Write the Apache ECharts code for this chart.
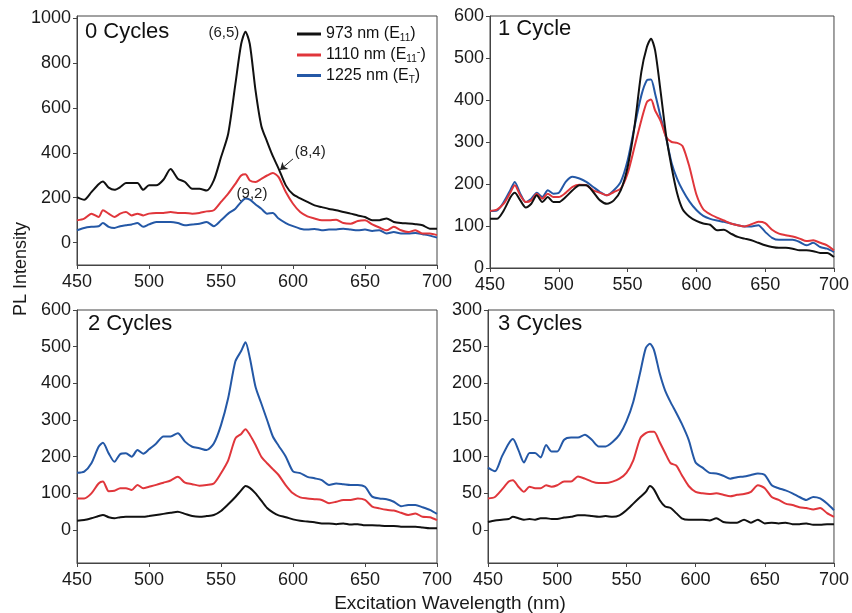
<!DOCTYPE html>
<html>
<head>
<meta charset="utf-8">
<script src="https://cdn.jsdelivr.net/npm/echarts@6/dist/echarts.min.js"></script>
<style>
  html, body { margin: 0; padding: 0; background: #fff; }
  #chart { width: 852px; height: 613px; }
</style>
</head>
<body>
<div id="chart"></div>
<script>
// excitation wavelengths (nm), shared by every panel
const wl = [450, 455, 460, 465, 468, 472, 476, 480, 484, 488, 492, 496, 500, 505, 510, 515, 520, 525, 530, 535, 540, 545, 550, 555, 560, 564, 567, 570, 574, 578, 582, 586, 590, 595, 600, 605, 610, 615, 620, 625, 630, 635, 640, 645, 650, 655, 660, 665, 670, 675, 680, 685, 690, 695, 700]

// 0 cycles
const c0E11 = [203, 191, 225, 260, 272, 245, 235, 247, 265, 265, 265, 235, 255, 255, 280, 328, 285, 270, 240, 240, 232, 277, 380, 485, 707, 885, 940, 885, 677, 520, 450, 385, 330, 255, 215, 197, 181, 166, 158, 150, 144, 136, 129, 121, 114, 100, 100, 107, 92, 87, 85, 82, 77, 62, 62]
const c0E11m = [99, 107, 129, 114, 144, 129, 114, 129, 136, 121, 129, 121, 129, 132, 132, 136, 132, 132, 129, 132, 139, 144, 181, 218, 262, 299, 304, 277, 270, 284, 299, 310, 292, 225, 173, 136, 117, 107, 99, 99, 102, 87, 84, 96, 99, 81, 67, 55, 70, 55, 47, 55, 40, 40, 33]
const c0ET = [55, 65, 70, 73, 87, 70, 65, 73, 77, 81, 87, 70, 81, 92, 92, 92, 87, 77, 81, 84, 92, 73, 99, 129, 151, 181, 196, 191, 170, 151, 129, 132, 107, 87, 73, 62, 58, 61, 55, 58, 58, 62, 58, 55, 58, 52, 55, 40, 47, 40, 40, 43, 37, 31, 22]

// 1 cycle
const c1E11 = [117, 117, 137, 169, 179, 161, 144, 153, 173, 157, 169, 157, 157, 169, 185, 197, 197, 181, 161, 153, 161, 185, 240, 336, 467, 526, 546, 518, 420, 315, 240, 178, 140, 122, 112, 106, 103, 90, 91, 82, 74, 70, 66, 60, 54, 50, 48, 48, 46, 42, 42, 40, 36, 36, 26]
const c1E11m = [136, 139, 153, 181, 197, 173, 157, 161, 177, 165, 177, 169, 169, 179, 193, 198, 197, 185, 179, 173, 181, 189, 225, 288, 352, 395, 401, 375, 350, 312, 300, 298, 290, 240, 175, 140, 128, 120, 113, 106, 102, 99, 104, 110, 107, 91, 82, 78, 75, 70, 64, 66, 60, 54, 42]
const c1ET = [136, 137, 157, 187, 205, 177, 157, 165, 179, 169, 185, 177, 179, 205, 217, 213, 205, 193, 181, 173, 185, 205, 256, 336, 411, 447, 449, 415, 360, 310, 250, 212, 185, 158, 138, 124, 117, 113, 110, 106, 102, 99, 99, 102, 86, 72, 67, 67, 67, 62, 54, 60, 50, 46, 38]

// 2 cycles
const c2E11 = [25, 27, 32, 38, 41, 35, 32, 35, 36, 36, 36, 36, 38, 41, 44, 47, 50, 44, 38, 36, 38, 41, 52, 70, 90, 108, 120, 115, 100, 80, 60, 48, 40, 35, 29, 25, 23, 21, 18, 18, 16, 18, 15, 16, 13, 13, 12, 11, 11, 9, 9, 9, 7, 5, 5]
const c2E11m = [86, 86, 100, 127, 132, 106, 107, 114, 114, 109, 123, 114, 118, 123, 129, 135, 145, 129, 125, 121, 123, 127, 155, 190, 250, 262, 275, 260, 232, 200, 182, 166, 150, 122, 100, 89, 86, 84, 82, 73, 77, 82, 82, 86, 82, 64, 59, 55, 53, 47, 41, 45, 36, 35, 27]
const c2ET = [156, 159, 182, 227, 238, 209, 186, 207, 209, 200, 218, 208, 220, 236, 255, 255, 264, 241, 227, 223, 218, 236, 286, 360, 460, 488, 512, 470, 390, 345, 300, 255, 230, 200, 160, 155, 145, 141, 136, 123, 127, 125, 123, 123, 118, 91, 86, 84, 77, 65, 68, 68, 62, 55, 44]

// 3 cycles
const c3E11 = [11, 13, 14, 15, 18, 16, 14, 15, 14, 16, 16, 15, 15, 17, 18, 20, 20, 19, 18, 19, 18, 20, 27, 36, 45, 52, 60, 55, 41, 32, 30, 23, 16, 14, 14, 14, 13, 16, 11, 10, 10, 14, 10, 14, 9, 10, 9, 10, 8, 8, 9, 7, 7, 8, 8]
const c3E11m = [43, 45, 55, 66, 68, 59, 52, 59, 57, 57, 61, 59, 61, 66, 66, 73, 70, 66, 64, 64, 66, 70, 78, 95, 125, 132, 134, 134, 120, 105, 91, 88, 75, 60, 52, 50, 49, 50, 48, 46, 48, 49, 52, 61, 57, 45, 41, 36, 34, 31, 30, 28, 30, 23, 18]
const c3ET = [85, 80, 100, 118, 124, 109, 92, 105, 105, 99, 116, 107, 107, 123, 126, 126, 130, 123, 114, 114, 120, 130, 148, 175, 215, 248, 254, 245, 214, 190, 174, 160, 145, 123, 92, 85, 78, 77, 74, 70, 72, 73, 75, 77, 75, 61, 57, 54, 50, 45, 41, 45, 43, 36, 27]

const seriesNames = ['973 nm (E11)', '1110 nm (E11-)', '1225 nm (ET)']
const legendLabels = {
  '973 nm (E11)': '973 nm (E{sub|11})',
  '1110 nm (E11-)': '1110 nm (E{sub|11}{sup|-})',
  '1225 nm (ET)': '1225 nm (E{sub|T})'
}
const colors = ['#111111', '#e0363b', '#2458a6']
const panelTitles = ['0 Cycles', '1 Cycle', '2 Cycles', '3 Cycles']
const panelData = [
  [c0E11, c0E11m, c0ET],
  [c1E11, c1E11m, c1ET],
  [c2E11, c2E11m, c2ET],
  [c3E11, c3E11m, c3ET]
]
const yRanges = [
  { min: -100, max: 1010, ticks: [0, 200, 400, 600, 800, 1000] },
  { min: 0, max: 600, ticks: [0, 100, 200, 300, 400, 500, 600] },
  { min: -90, max: 600, ticks: [0, 100, 200, 300, 400, 500, 600] },
  { min: -45, max: 300, ticks: [0, 50, 100, 150, 200, 250, 300] }
]

const font = 'Liberation Sans, Arial, sans-serif'
const axisColor = '#444'

const grids = [
  { left: 77, top: 16, width: 360, height: 249 },
  { left: 490, top: 16, width: 359, height: 252 },
  { left: 77, top: 310, width: 360, height: 253 },
  { left: 488, top: 310, width: 360, height: 253 }
].map(g => Object.assign({ show: true, borderColor: axisColor, borderWidth: 1, backgroundColor: 'transparent' }, g))

const xAxes = grids.map((g, i) => ({
  type: 'value',
  gridIndex: i,
  min: 450,
  max: 700,
  interval: 50,
  axisLine: { show: true, onZero: false, lineStyle: { color: axisColor } },
  axisTick: { show: true, length: 4, lineStyle: { color: axisColor } },
  axisLabel: { color: '#1a1a1a', fontSize: 18, fontFamily: font, margin: 8, formatter: v => String(v) },
  splitLine: { show: false }
}))

const yAxes = yRanges.map((r, i) => ({
  type: 'value',
  gridIndex: i,
  min: r.min,
  max: r.max,
  axisLine: { show: true, lineStyle: { color: axisColor } },
  axisTick: { show: true, length: 4, customValues: r.ticks, lineStyle: { color: axisColor } },
  axisLabel: { color: '#1a1a1a', fontSize: 18, fontFamily: font, margin: 6, customValues: r.ticks, formatter: v => String(v) },
  splitLine: { show: false }
}))

const series = []
panelData.forEach((set, p) => {
  set.forEach((vals, k) => {
    series.push({
      name: seriesNames[k],
      type: 'line',
      xAxisIndex: p,
      yAxisIndex: p,
      data: wl.map((x, j) => [x, vals[j]]),
      showSymbol: false,
      smooth: 0.25,
      z: 5 - k,
      lineStyle: { color: colors[k], width: 2 },
      itemStyle: { color: colors[k] }
    })
  })
})

// chirality labels on the 0-cycle panel
series[0].markPoint = {
  symbol: 'circle',
  symbolSize: 0,
  silent: true,
  label: { show: true, position: 'inside', formatter: '{b}', color: '#222', fontSize: 15, fontFamily: font },
  data: [
    { name: '(6,5)', coord: [552, 934] },
    { name: '(8,4)', coord: [612, 404] },
    { name: '(9,2)', coord: [571.5, 217] }
  ]
}
series[0].markLine = {
  silent: true,
  symbol: ['none', 'arrow'],
  symbolSize: 7,
  label: { show: false },
  lineStyle: { color: '#222', width: 1, type: 'solid' },
  data: [[{ coord: [600, 373] }, { coord: [591, 324] }]]
}

const chart = echarts.init(document.getElementById('chart'))
chart.setOption({
  animation: false,
  textStyle: { fontFamily: font },
  title: panelTitles.map((t, i) => ({
    text: t,
    left: [85, 498, 88, 498][i],
    top: [21, 18, 313, 313][i],
    padding: 0,
    textStyle: { fontSize: 22, fontWeight: 'normal', color: '#111', fontFamily: font }
  })),
  legend: {
    data: seriesNames,
    orient: 'vertical',
    left: 297,
    top: 26,
    padding: 0,
    itemGap: 3,
    itemWidth: 24,
    itemHeight: 3,
    icon: 'rect',
    formatter: name => legendLabels[name],
    textStyle: {
      fontSize: 16,
      color: '#111',
      fontFamily: font,
      rich: {
        sub: { fontSize: 10, padding: [9, 0, 0, 0], color: '#111' },
        sup: { fontSize: 11, padding: [0, 0, 6, 0], color: '#111' }
      }
    }
  },
  grid: grids,
  xAxis: xAxes,
  yAxis: yAxes,
  series: series,
  graphic: [
    {
      type: 'text',
      x: 21,
      y: 269,
      rotation: Math.PI / 2,
      style: { text: 'PL Intensity', fontSize: 18, fontFamily: font, fill: '#1a1a1a', textAlign: 'center', textVerticalAlign: 'middle' }
    },
    {
      type: 'text',
      x: 450,
      y: 604,
      style: { text: 'Excitation Wavelength (nm)', fontSize: 19, fontFamily: font, fill: '#1a1a1a', textAlign: 'center', textVerticalAlign: 'middle' }
    }
  ]
})
</script>
</body>
</html>
